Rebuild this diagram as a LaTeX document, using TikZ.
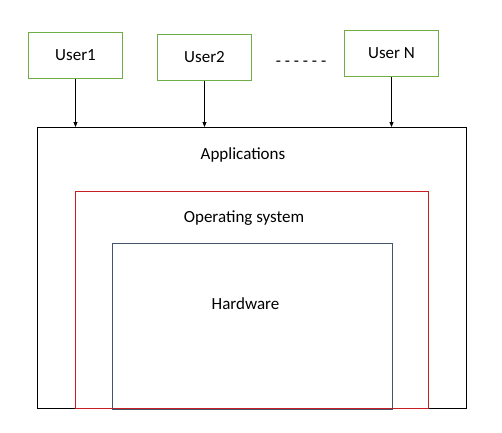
\documentclass[tikz,border=0pt]{standalone}
\usepackage{fontspec}
\setmainfont{Carlito}
\definecolor{usrgreen}{RGB}{112,173,71}
\definecolor{osred}{RGB}{200,30,35}
\definecolor{hwgray}{RGB}{68,84,106}
\usetikzlibrary{arrows.meta,positioning,calc}

\begin{document}
\begin{tikzpicture}[x=1pt, y=-1pt,
        font=\fontsize{17}{20}\selectfont,
        usr/.style={draw=usrgreen, line width=1pt, minimum width=94pt,
            minimum height=46pt, anchor=north west},
        layer/.style={line width=1pt, anchor=north west},
        line/.style={-{Triangle[length=5pt, width=4pt]}, line width=0.9pt}]
        \useasboundingbox (0,0) rectangle (502,432);
        % users
        \node[usr] (u1) at (28,32) {User1};
        \node[usr] (u2) at (157,34) {User2};
        \node[usr] (un) at (344,30) {User N};
        \node (dots) at (301,64) {- - - - - -};
        % layers
        \node[layer, draw=black, minimum width=429pt, minimum height=281pt] (app) at (37,127) {};
        \node[layer, draw=osred, minimum width=353pt, minimum height=217pt] (os) at (75,191) {};
        \node[layer, draw=hwgray, minimum width=280pt, minimum height=166pt] (hw) at (112,243) {};
        \node (applbl) at (243,155) {Applications};
        \node (oslbl) at (244,218) {Operating system};
        \node (hwlbl) at (245.5,304) {Hardware};
        \draw[line] (u1) -- (u1 |- app.north);
        \draw[line] (u2) -- (u2 |- app.north);
        \draw[line] (un) -- (un |- app.north);
    \end{tikzpicture}
\end{document}
